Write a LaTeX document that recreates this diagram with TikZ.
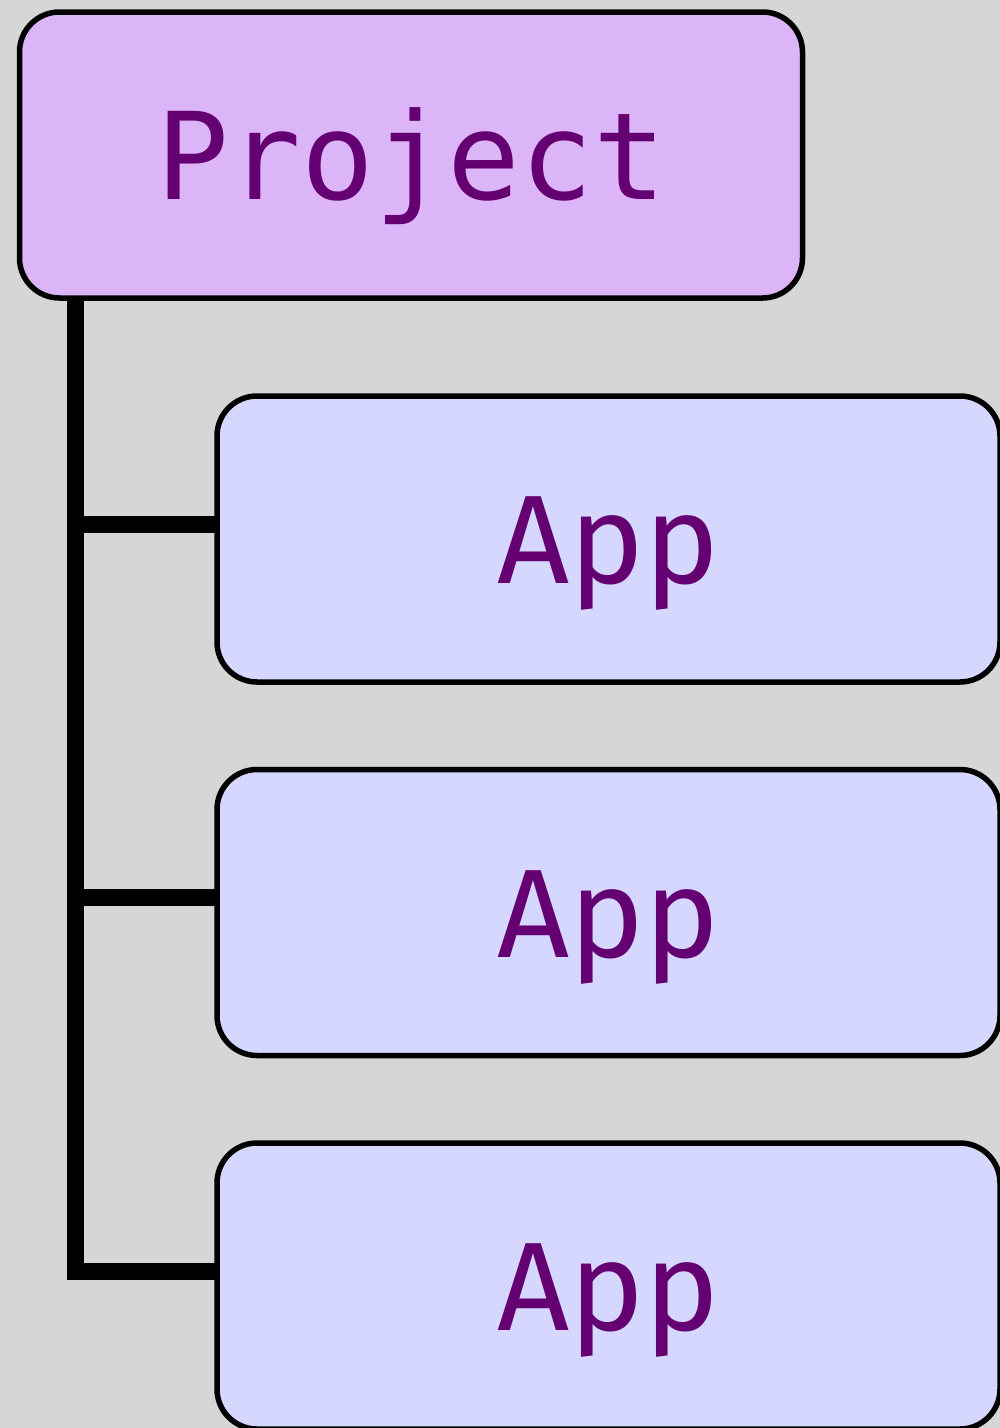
\documentclass[tikz,border=0pt]{standalone}
\usepackage{fontspec}
\newfontfamily\monof{DejaVu Sans Mono}
\newfontfamily\appf{Fira Sans}
\definecolor{bg}{HTML}{D6D6D6}
\definecolor{projfill}{HTML}{DCB5F8}
\definecolor{appfill}{HTML}{D5D7FE}
\definecolor{txt}{HTML}{650072}
\begin{document}
\begin{tikzpicture}[x=1pt,y=-1pt,
  box/.style={draw=black, line width=5.5pt, rounded corners=40pt,
    minimum width=783pt, minimum height=286pt, inner sep=0pt, text=txt,
    text depth=0pt},
  projbox/.style={box, fill=projfill, font=\monof\fontsize{121}{121}\selectfont, text height=88pt},
  appbox/.style={box, fill=appfill, font=\appf\fontsize{126}{126}\selectfont, text height=89pt},
  conn/.style={draw=black, line width=17pt, line join=miter}]
\fill[bg] (0,0) rectangle (1000,1428);
\useasboundingbox (0,0) rectangle (1000,1428);
\node[projbox] (proj) at (411,155) {Project};
\node[appbox] (app1) at (608.5,539) {App};
\node[appbox] (app2) at (608.5,912.5) {App};
\node[appbox] (app3) at (608.5,1286) {App};
\draw[conn] ([xshift=58.5pt,yshift=2pt]proj.south west) |- ([xshift=1pt,yshift=15pt]app3.west);
\draw[conn] ([xshift=58.5pt,yshift=2pt]proj.south west) |- ([xshift=1pt,yshift=15pt]app2.west);
\draw[conn] ([xshift=58.5pt,yshift=2pt]proj.south west) |- ([xshift=1pt,yshift=15pt]app1.west);
\end{tikzpicture}
\end{document}
